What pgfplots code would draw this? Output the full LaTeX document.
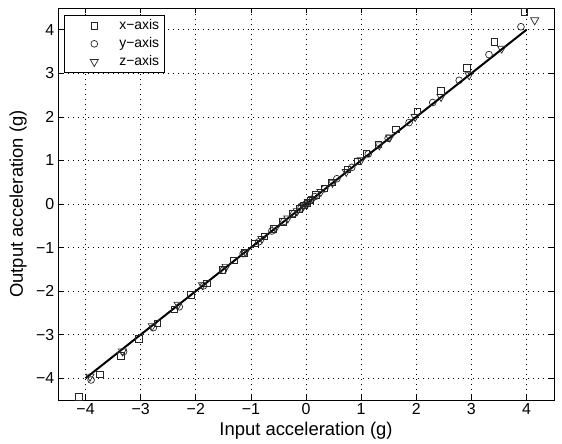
\documentclass[border=0pt]{standalone}
\usepackage{fontspec}
\setmainfont{Liberation Sans}
\usepackage{pgfplots}
\pgfplotsset{compat=1.18}
\begin{document}
\begin{tikzpicture}
\useasboundingbox (-58bp,-44bp) rectangle (504bp,400bp);
\begin{axis}[
  scale only axis, width=496bp, height=392bp,
  xmin=-4.5, xmax=4.5, ymin=-4.5, ymax=4.5,
  xtick={-4,...,4}, ytick={-4,...,4},
  xticklabels={−4,−3,−2,−1,0,1,2,3,4},
  yticklabels={−4,−3,−2,−1,0,1,2,3,4},
  tick align=inside, major tick length=5bp,
  tick style={black, line width=0.6bp},
  axis line style={black, line width=0.8bp},
  grid=major,
  major grid style={black, line width=0.6bp, dash pattern=on 0.8bp off 4.2bp},
  ticklabel style={font=\fontsize{16}{18}\selectfont},
  label style={font=\fontsize{18.5}{22}\selectfont},
  yticklabel style={inner xsep=3.5bp},
  xlabel={Input acceleration (g)},
  ylabel={Output acceleration (g)},
  xlabel style={at={(axis description cs:0.5,0)}, anchor=center, yshift=-31bp},
  ylabel style={at={(axis description cs:0,0.5)}, anchor=center, yshift=40bp},
  legend style={at={(0,1)}, anchor=north west, xshift=6bp, yshift=-7bp,
    draw=black, line width=0.6bp, font=\fontsize{14}{16}\selectfont,
    inner xsep=3bp, inner ysep=1.5bp, row sep=0bp,
    nodes={inner sep=2bp, text height=10.5bp, text depth=3.5bp}},
  legend cell align=left,
  legend image code/.code={%
    \path[draw=none] (0bp,0bp) -- (50bp,0bp);
    \draw[#1, mark repeat=2, mark phase=2] plot coordinates {(27bp,0bp) (27bp,0bp) (27bp,0bp)};},
]
% x-axis
\addplot[only marks, mark=square, mark size=3.2bp, black!85, line width=0.7bp] coordinates {
(-4.12,-4.43) (-3.74,-3.91) (-3.36,-3.49) (-3.03,-3.10) (-2.70,-2.74)
(-2.39,-2.42) (-2.09,-2.09) (-1.80,-1.82) (-1.52,-1.51) (-1.31,-1.30)
(-1.12,-1.12) (-0.93,-0.90) (-0.76,-0.74) (-0.59,-0.57) (-0.42,-0.41)
(-0.25,-0.23) (-0.12,-0.11) (-0.04,-0.03) (0.02,0.03) (0.08,0.09)
(0.18,0.21) (0.33,0.36) (0.47,0.50) (0.75,0.79) (0.93,0.98)
(1.10,1.16) (1.31,1.37) (1.63,1.72) (2.02,2.13) (2.45,2.60)
(2.92,3.13) (3.42,3.72) (3.96,4.41)
};
\addlegendentry{x−axis}
% y-axis
\addplot[only marks, mark=o, mark size=3.4bp, black!85, line width=0.7bp] coordinates {
(-3.90,-4.04) (-3.31,-3.39) (-2.77,-2.84) (-2.30,-2.36) (-1.86,-1.88)
(-1.50,-1.52) (-1.14,-1.14) (-0.86,-0.87) (-0.62,-0.62) (-0.40,-0.40)
(-0.22,-0.22) (-0.09,-0.09) (0.00,0.00) (0.07,0.08) (0.16,0.17)
(0.34,0.35) (0.56,0.58) (0.83,0.84) (1.13,1.15) (1.49,1.51)
(1.87,1.87) (2.30,2.33) (2.78,2.84) (3.32,3.43) (3.90,4.07)
};
\addlegendentry{y−axis}
% z-axis
\addplot[only marks, mark=triangle, mark size=4.7bp, mark options={rotate=180}, black!85, line width=0.7bp] coordinates {
(-3.92,-3.96) (-3.33,-3.38) (-2.79,-2.80) (-2.32,-2.31) (-1.88,-1.86)
(-1.45,-1.44) (-1.10,-1.10) (-0.80,-0.80) (-0.55,-0.55) (-0.33,-0.33)
(-0.16,-0.16) (-0.05,-0.05) (0.04,0.04) (0.12,0.12) (0.27,0.28)
(0.48,0.49) (0.73,0.74) (1.00,1.01) (1.33,1.35) (1.52,1.53)
(1.98,2.00) (2.45,2.46) (2.96,2.96) (3.55,3.57) (4.15,4.22)
};
\addlegendentry{z−axis}
% fit line
\addplot[black, line width=2bp, forget plot] coordinates {(-4,-4) (4,4)};
\end{axis}
\end{tikzpicture}
\end{document}
